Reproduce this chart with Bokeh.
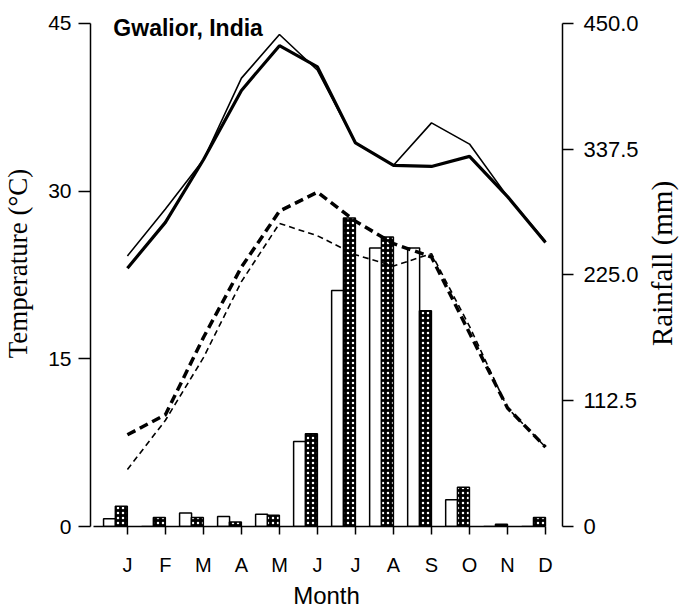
from bokeh.plotting import figure
from bokeh.layouts import row
from bokeh.models import Range1d, LinearAxis, FixedTicker, Label, ColumnDataSource
from bokeh.transform import dodge
from bokeh.embed import file_html
from bokeh.resources import INLINE

# ---- data ----
months = [1, 2, 3, 4, 5, 6, 7, 8, 9, 10, 11, 12]
month_labels = ["J", "F", "M", "A", "M", "J", "J", "A", "S", "O", "N", "D"]

# maximum temperature (°C), two series
tmax_thin = [24.2, 28.4, 32.8, 40.1, 44.0, 40.8, 34.3, 32.3, 36.1, 34.2, 29.5, 25.5]
tmax_thick = [23.1, 27.2, 32.8, 39.0, 43.0, 41.1, 34.3, 32.3, 32.2, 33.1, 29.5, 25.4]
# minimum temperature (°C), two series
tmin_thick = [8.2, 10.0, 16.9, 23.2, 28.2, 29.9, 27.3, 25.3, 24.1, 17.3, 10.6, 7.1]
tmin_thin = [5.1, 9.5, 15.1, 21.9, 27.1, 26.0, 24.3, 23.3, 24.4, 17.9, 10.6, 7.1]

# rainfall (mm), two series
rain_open = [7, 0, 12, 9, 11, 76, 211, 249, 249, 24, 0, 0]
rain_hatched = [18, 8, 8, 4, 10, 83, 276, 259, 193, 35, 2, 8]

temp_ticks = [0, 15, 30, 45]
rain_ticks = [0, 112.5, 225.0, 337.5, 450.0]
rain_tick_labels = ["0", "112.5", "225.0", "337.5", "450.0"]

TEMP_TOP = 45 * 530 / 507   # headroom above the 45 °C tick for the title
src = ColumnDataSource(dict(m=months, ro=rain_open, rh=rain_hatched))

p = figure(width=642, height=612, output_backend="svg", toolbar_location=None,
           x_range=Range1d(0.029, 12.446), y_range=Range1d(0, TEMP_TOP),
           min_border_left=89, min_border_right=80, min_border_top=0,
           min_border_bottom=82)
p.extra_y_ranges = {"rain": Range1d(0, TEMP_TOP * 10)}
p.outline_line_color = None
p.xgrid.visible = False
p.ygrid.visible = False
p.background_fill_color = "white"
p.border_fill_color = "white"

# bars
p.vbar(x=dodge("m", -0.47, range=p.x_range), top="ro", width=0.315, bottom=0,
       y_range_name="rain", source=src, fill_color="white",
       line_color="black", line_width=1.5)
p.vbar(x=dodge("m", -0.16, range=p.x_range), top="rh", width=0.315, bottom=0,
       y_range_name="rain", source=src, fill_color="black",
       line_color="black", line_width=1.5,
       hatch_pattern="dot", hatch_color="white", hatch_scale=5, hatch_weight=1.2)

# temperature lines
p.line(months, tmax_thin, line_color="black", line_width=1.6)
p.line(months, tmax_thick, line_color="black", line_width=3.2)
p.line(months, tmin_thin, line_color="black", line_width=1.6, line_dash="6 4")
p.line(months, tmin_thick, line_color="black", line_width=3.5, line_dash="9 5")

# left axis
ya = p.yaxis[0]
ya.ticker = FixedTicker(ticks=temp_ticks)
ya.bounds = (0, 45)
ya.major_tick_out = 12
ya.major_tick_in = 0
ya.minor_tick_out = 0
ya.minor_tick_in = 0
ya.axis_line_width = 1.5
ya.major_tick_line_width = 1.5
ya.major_label_standoff = 7
ya.major_label_text_font = "Liberation Sans"
ya.major_label_text_font_size = "21px"
ya.major_label_text_color = "black"
ya.axis_label = "Temperature (°C)"
ya.axis_label_text_font = "Liberation Serif"
ya.axis_label_text_font_style = "normal"
ya.axis_label_text_font_size = "27px"
ya.axis_label_standoff = 12
ya.axis_label_text_color = "black"

# right axis (rainfall); its title is drawn by the narrow side figure below
ra = LinearAxis(y_range_name="rain", ticker=FixedTicker(ticks=rain_ticks),
                major_label_overrides=dict(zip(rain_ticks, rain_tick_labels)))
ra.bounds = (0, 450)
ra.major_tick_out = 11
ra.major_tick_in = 0
ra.minor_tick_out = 0
ra.minor_tick_in = 0
ra.axis_line_width = 1.5
ra.major_tick_line_width = 1.5
ra.major_label_standoff = 10
ra.major_label_text_font = "Liberation Sans"
ra.major_label_text_font_size = "22px"
ra.major_label_text_color = "black"
p.add_layout(ra, "right")

# bottom axis
xa = p.xaxis[0]
xa.ticker = FixedTicker(ticks=months)
xa.major_label_overrides = dict(zip(months, month_labels))
xa.bounds = (0.1, 12)
xa.major_tick_out = 8
xa.major_tick_in = 0
xa.minor_tick_out = 0
xa.minor_tick_in = 0
xa.axis_line_width = 1.5
xa.major_tick_line_width = 1.5
xa.major_label_standoff = 19
xa.major_label_text_font = "Liberation Sans"
xa.major_label_text_font_size = "20px"
xa.major_label_text_color = "black"
xa.axis_label = "Month"
xa.axis_label_text_font = "Liberation Sans"
xa.axis_label_text_font_style = "normal"
xa.axis_label_text_font_size = "24px"
xa.axis_label_standoff = 3
xa.axis_label_text_color = "black"

# title inside the frame
p.add_layout(Label(x=0.63, y=44.6, text="Gwalior, India",
                   text_font="Liberation Sans", text_font_style="bold",
                   text_font_size="23px", text_color="black",
                   text_baseline="alphabetic", text_align="left"))

# narrow side figure carrying the "Rainfall (mm)" title, read bottom to top
p2 = figure(width=41, height=612, output_backend="svg", toolbar_location=None,
            x_range=Range1d(0, 1), y_range=Range1d(0, 1),
            x_axis_location=None, min_border_left=35, min_border_right=0,
            min_border_top=0, min_border_bottom=86)
p2.outline_line_color = None
p2.xgrid.visible = False
p2.ygrid.visible = False
p2.background_fill_color = "white"
p2.border_fill_color = "white"
la = p2.yaxis[0]
la.ticker = FixedTicker(ticks=[])
la.axis_line_color = None
la.major_tick_out = 0
la.major_tick_in = 0
la.minor_tick_out = 0
la.minor_tick_in = 0
la.major_label_text_font_size = "0px"
la.axis_label = "Rainfall (mm)"
la.axis_label_text_font = "Liberation Serif"
la.axis_label_text_font_style = "normal"
la.axis_label_text_font_size = "29px"
la.axis_label_standoff = 1
la.axis_label_text_color = "black"

layout = row(p, p2)
open("out.html", "w").write(file_html(layout, INLINE))
